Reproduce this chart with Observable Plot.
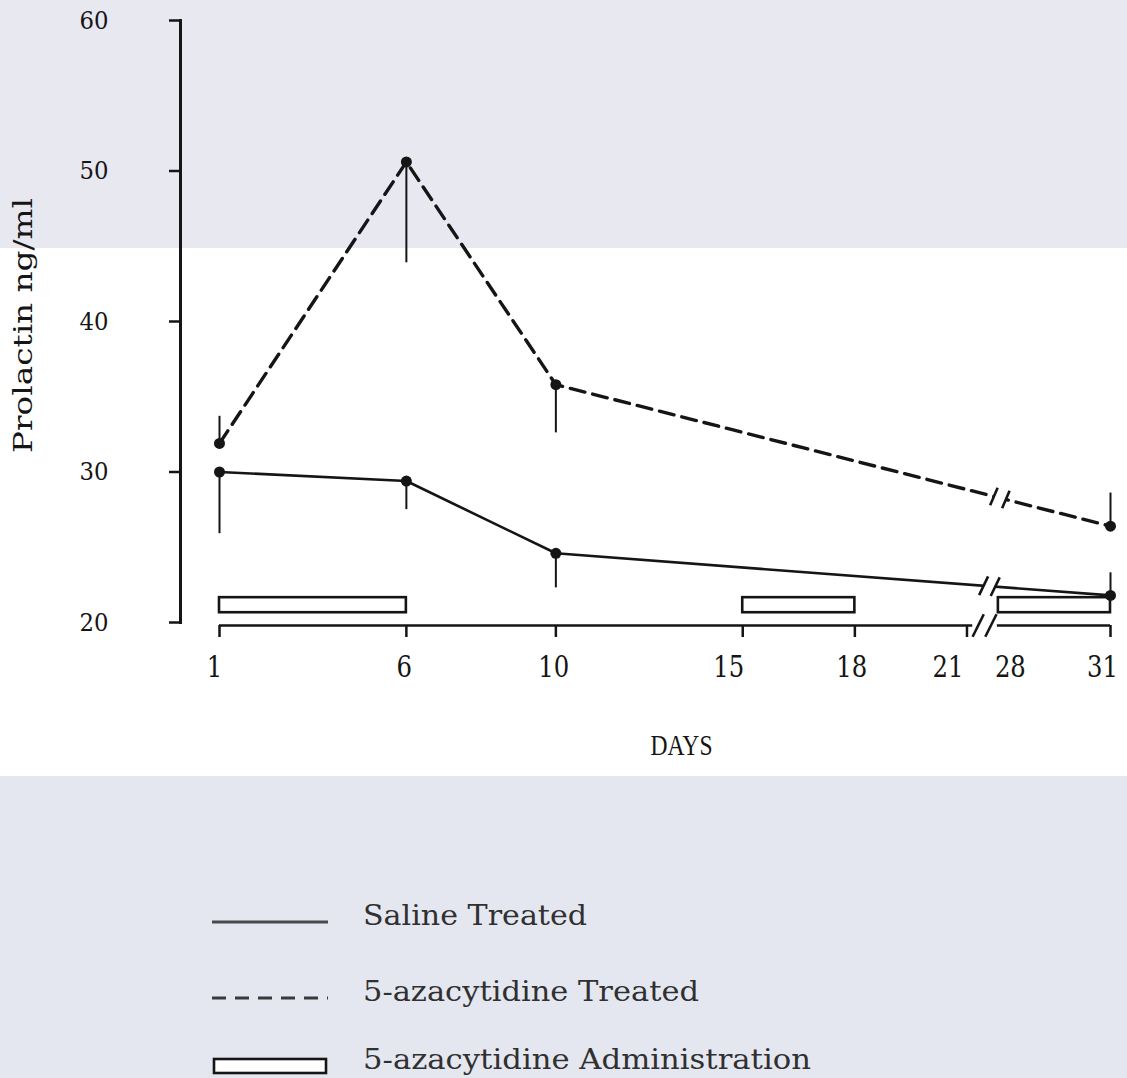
<!DOCTYPE html>
<html>
<head>
<meta charset="utf-8">
<script src="https://cdn.jsdelivr.net/npm/d3@7"></script>
<script src="https://cdn.jsdelivr.net/npm/@observablehq/plot@0.6"></script>
<style>
  html, body { margin: 0; padding: 0; }
  body {
    width: 1127px; height: 1078px; position: relative; overflow: hidden;
    background: linear-gradient(to bottom,
      #e8e8f1 0, #e8e8f1 248px, #ffffff 248px, #ffffff 776px, #e5e7f0 776px, #e5e7f0 100%);
  }
  #chart { position: absolute; left: 0; top: 0; }
  .legend { position: absolute; left: 212px; top: 0; font-family: "DejaVu Serif", serif; color: #303030; }
  .row { position: absolute; left: 0; height: 40px; display: flex; align-items: center; white-space: nowrap; }
  .row svg { width: 118px; height: 20px; overflow: visible; flex: none; }
  .row span {
    display: inline-block; margin-left: 33px; font-size: 27px; line-height: 40px;
    transform-origin: left center; position: relative; top: -6px;
  }
</style>
</head>
<body>
<div id="chart"></div>
<div class="legend" id="legend"></div>
<script>
// Serum prolactin (ng/ml) by day, mean with one-sided error bar end
const days = [1, 6, 10, 31];
const saline = [30.0, 29.4, 24.6, 21.8];
const salineErr = [25.9, 27.5, 22.3, 23.3];
const azacytidine = [31.9, 50.6, 35.8, 26.4];
const azacytidineErr = [33.7, 43.9, 32.6, 28.6];
// 5-azacytidine dosing periods (days)
const doseStart = [1, 15, 28];
const doseEnd = [6, 18, 31];
// Axis ticks
const tickDays = [1, 6, 10, 15, 18, 21, 31];
const labelDays = [1, 6, 10, 15, 18, 21, 28, 31];
const yTicks = [20, 30, 40, 50, 60];
const seriesNames = ["Saline Treated", "5-azacytidine Treated", "5-azacytidine Administration"];

// Broken day axis: days between 21 and 28 are squeezed into a short gap
const lastBefore = 21, firstAfter = 28, skipWidth = 0.84;
const pos = d => d <= lastBefore ? d : d - firstAfter + lastBefore + skipWidth;
const dayAt = p => p <= lastBefore ? Math.round(p) : Math.round(p - lastBefore - skipWidth + firstAfter);

const rows = (vals, errs) => days.map((d, i) => ({day: d, x: pos(d), v: vals[i], e: errs[i]}));
const sal = rows(saline, salineErr);
const aza = rows(azacytidine, azacytidineErr);
const doses = doseStart.map((s, i) => ({x1: pos(s), x2: pos(doseEnd[i])}));

// bar band for the dosing periods, in ng/ml units just above the baseline
const doseLow = 20.65, doseHigh = 21.65;

const ink = "#151515";
const typeFace = "'DejaVu Serif', serif";

// hand-typed labels sit a little off their ticks (px)
const labelNudge = {1: -5, 6: -2, 10: -2, 15: -14, 18: -3, 21: -19, 28: 12, 31: -8};

// value of a polyline at position p
function along(rs, p) {
  for (let i = 0; i < rs.length - 1; i++) {
    const a = rs[i], b = rs[i + 1];
    if (p >= a.x && p <= b.x) return a.v + (b.v - a.v) * (p - a.x) / (b.x - a.x);
  }
  return rs[rs.length - 1].v;
}

// "//" break symbol drawn across a line at position `at`
function breakMarks(yAt, {at, spread, lean, rise, gap, dy = 0, width = 2.6, cover = 8}) {
  const gapSeg = [{x1: at - gap, x2: at + gap, y1: yAt(at - gap), y2: yAt(at + gap)}];
  const slashes = [-spread, spread].map(o => {
    const c = at + o;
    return {x1: c - lean, x2: c + lean, y1: yAt(c) - rise, y2: yAt(c) + rise};
  });
  return [
    Plot.link(gapSeg, {x1: "x1", y1: "y1", x2: "x2", y2: "y2", stroke: "white", strokeWidth: cover, dy}),
    Plot.link(slashes, {x1: "x1", y1: "y1", x2: "x2", y2: "y2", stroke: ink, strokeWidth: width, dy})
  ];
}

const dayLabels = labelDays.map(d =>
  Plot.axisX([pos(d)], {
    tickSize: 0, tickPadding: 30, dy: 3, dx: labelNudge[d] ?? 0,
    tickFormat: dayAt, fontSize: 30, fontFamily: typeFace, fill: ink, label: null
  })
);

const chart = Plot.plot({
  width: 1127,
  height: 780,
  marginLeft: 180,
  marginRight: 17,
  marginTop: 20,
  marginBottom: 158,
  style: {background: "transparent", color: ink, fontFamily: typeFace},
  x: {domain: [pos(1), pos(31)], range: [219, 1110]},
  y: {domain: [20, 60]},
  marks: [
    // y axis
    Plot.frame({anchor: "left", stroke: ink, strokeWidth: 3}),
    Plot.axisY(yTicks, {tickSize: 11, tickPadding: 61, fontSize: 25, fontFamily: typeFace, strokeWidth: 2.5, fill: ink, label: null}),
    Plot.text(["Prolactin ng/ml"], {
      frameAnchor: "left", textAnchor: "middle", rotate: -90, dx: -157, dy: 4,
      fontSize: 26, fontFamily: typeFace, fill: ink
    }),

    // x axis (line, ticks, labels, break)
    Plot.ruleY([20], {x1: pos(1), x2: pos(31), dy: 3, stroke: ink, strokeWidth: 2.5}),
    Plot.axisX(tickDays.map(pos), {tickSize: 12, dy: 3, tickFormat: () => "", strokeWidth: 2.5, stroke: ink, label: null}),
    ...dayLabels,
    ...breakMarks(() => 20, {at: 21.47, spread: 0.17, lean: 0.15, rise: 0.75, gap: 0.33, dy: 3, width: 2.6}),
    Plot.text(["DAYS"], {frameAnchor: "bottom", dx: 36, dy: 132, fontFamily: "'Liberation Serif', serif", fontSize: 30, fill: ink}),

    // dosing periods
    Plot.rect(doses, {x1: "x1", x2: "x2", y1: doseLow, y2: doseHigh, fill: "white", stroke: ink, strokeWidth: 2.6}),

    // series lines
    Plot.line(sal, {x: "x", y: "v", stroke: ink, strokeWidth: 2.6}),
    Plot.line(aza, {x: "x", y: "v", stroke: ink, strokeWidth: 3.4, strokeDasharray: "15,8"}),
    ...breakMarks(p => along(sal, p), {at: 21.6, spread: 0.155, lean: 0.12, rise: 0.62, gap: 0.15}),
    ...breakMarks(p => along(aza, p), {at: 21.88, spread: 0.16, lean: 0.1, rise: 0.58, gap: 0.15}),

    // error bars and means
    Plot.ruleX(sal, {x: "x", y1: "v", y2: "e", stroke: ink, strokeWidth: 2}),
    Plot.ruleX(aza, {x: "x", y1: "v", y2: "e", stroke: ink, strokeWidth: 2}),
    Plot.dot(sal, {x: "x", y: "v", r: 5.5, fill: ink, stroke: "none"}),
    Plot.dot(aza, {x: "x", y: "v", r: 5.5, fill: ink, stroke: "none"})
  ]
});
document.getElementById("chart").append(chart);

// typewriter pitch: fit each text to a fixed advance per character
function pitchText(el, pitch) {
  const t = el.textContent.trim();
  if (!t) return;
  el.setAttribute("textLength", (pitch * t.length).toFixed(1));
  el.setAttribute("lengthAdjust", "spacingAndGlyphs");
}
d3.select(chart).selectAll("[aria-label='x-axis tick label'] text").each(function () { pitchText(this, 15.5); });
d3.select(chart).selectAll("[aria-label='y-axis tick label'] text").each(function () { pitchText(this, 14.5); });
d3.select(chart).selectAll("[aria-label='text'] text").each(function () {
  const t = this.textContent.trim();
  pitchText(this, t === "DAYS" ? 15.5 : 17);
});

// legend
const legend = d3.select("#legend");
const rowsY = [902, 978, 1046];
const swatches = [
  g => g.append("line").attr("x1", 0).attr("x2", 116).attr("y1", 10).attr("y2", 10)
        .attr("stroke", "#4a4a4a").attr("stroke-width", 3.2),
  g => g.append("line").attr("x1", 0).attr("x2", 116).attr("y1", 10).attr("y2", 10)
        .attr("stroke", "#3a3a3a").attr("stroke-width", 3).attr("stroke-dasharray", "14,9"),
  g => g.append("rect").attr("x", 2).attr("y", 3).attr("width", 112).attr("height", 14)
        .attr("fill", "white").attr("stroke", ink).attr("stroke-width", 2.6)
];
seriesNames.forEach((name, i) => {
  const row = legend.append("div").attr("class", "row").style("top", rowsY[i] + "px");
  const svg = row.append("svg").attr("viewBox", "0 0 118 20");
  swatches[i](svg);
  const span = row.append("span").text(name);
  const w = span.node().getBoundingClientRect().width;
  span.style("transform", `scaleX(${(16 * name.length / w).toFixed(3)})`);
});
</script>
</body>
</html>
